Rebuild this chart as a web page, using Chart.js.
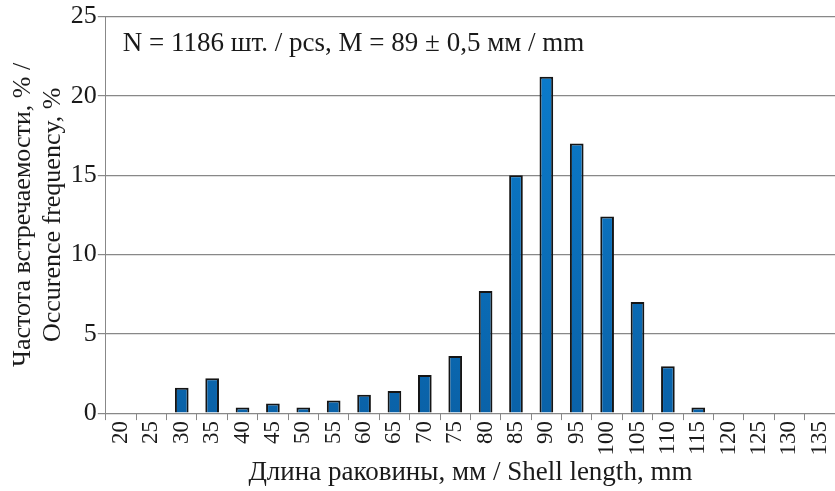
<!DOCTYPE html>
<html>
<head>
<meta charset="utf-8">
<script src="https://cdn.jsdelivr.net/npm/chart.js@4/dist/chart.umd.min.js"></script>
<style>
  html, body { margin:0; padding:0; background:#fff; }
  #wrap { width:835px; height:491px; }
</style>
</head>
<body>
<div id="wrap"><canvas id="grafico"></canvas></div>
<script>
// длина раковины, мм
const categorias = ['20','25','30','35','40','45','50','55','60','65','70','75','80','85','90','95','100','105','110','115','120','125','130','135'];
// частота, %
const frecuencias = [0,0,1.6,2.2,0.35,0.6,0.35,0.8,1.15,1.4,2.4,3.6,7.7,15.0,21.2,17.0,12.4,7.0,2.95,0.35,0,0,0,0];
const ticksY = [0,5,10,15,20,25];
const textoNota = 'N = 1186 шт. / pcs, M = 89 ± 0,5 мм / mm';
const tituloX = 'Длина раковины, мм / Shell length, mm';
const tituloY = ['Частота встречаемости, % /','Occurence frequency, %'];

const fuente = "'Liberation Serif', 'Times New Roman', serif";

const notaPlugin = {
    id:'nota',
    afterDraw(chart){
        const ctx = chart.ctx, a = chart.chartArea;
        ctx.save();
        ctx.font = '27px ' + fuente;
        ctx.fillStyle = '#1a1a1a';
        ctx.textBaseline = 'middle';
        ctx.fillText(textoNota, a.left + 17, a.top + 27);
        ctx.restore();
    }
};

function degradado(context){
    const chart = context.chart;
    const a = chart.chartArea;
    if(!a) return '#0a72c0';
    const g = chart.ctx.createLinearGradient(0, a.top, 0, a.bottom);
    g.addColorStop(0, '#0b7fd0');
    g.addColorStop(1, '#0a62a8');
    return g;
}

new Chart(document.getElementById('grafico').getContext('2d'), {
    type:'bar',
    data:{
        labels: categorias,
        datasets:[{
            data: frecuencias,
            backgroundColor: degradado,
            borderColor:'#151515',
            borderWidth:2,
            barPercentage:0.45,
            categoryPercentage:1
        }]
    },
    options:{
        responsive:true,
        maintainAspectRatio:false,
        animation:false,
        layout:{ padding:{ top:9, right:0, left:8, bottom:2 } },
        plugins:{ legend:{display:false}, tooltip:{enabled:false} },
        scales:{
            x:{
                afterFit(axis){ axis.paddingRight = 0; },
                grid:{ drawOnChartArea:false, drawTicks:true, tickLength:7, color:'#888' },
                border:{ display:true, color:'#888' },
                ticks:{ color:'#1a1a1a', font:{family:fuente, size:23}, minRotation:90, maxRotation:90, autoSkip:false, padding:1 },
                title:{ display:true, text:tituloX, color:'#1a1a1a', font:{family:fuente, size:27}, padding:{top:0,bottom:0} }
            },
            y:{
                min:0, max:25,
                afterBuildTicks(axis){ axis.ticks = ticksY.map(v=>({value:v})); },
                grid:{ color:'#888', lineWidth:1.2, tickLength:8 },
                border:{ display:true, color:'#888' },
                ticks:{ color:'#1a1a1a', font:{family:fuente, size:26}, padding:1 },
                title:{ display:true, text:tituloY, color:'#1a1a1a', font:{family:fuente, size:26, lineHeight:1.15}, padding:{top:0,bottom:2} }
            }
        }
    },
    plugins:[notaPlugin]
});
</script>
</body>
</html>
